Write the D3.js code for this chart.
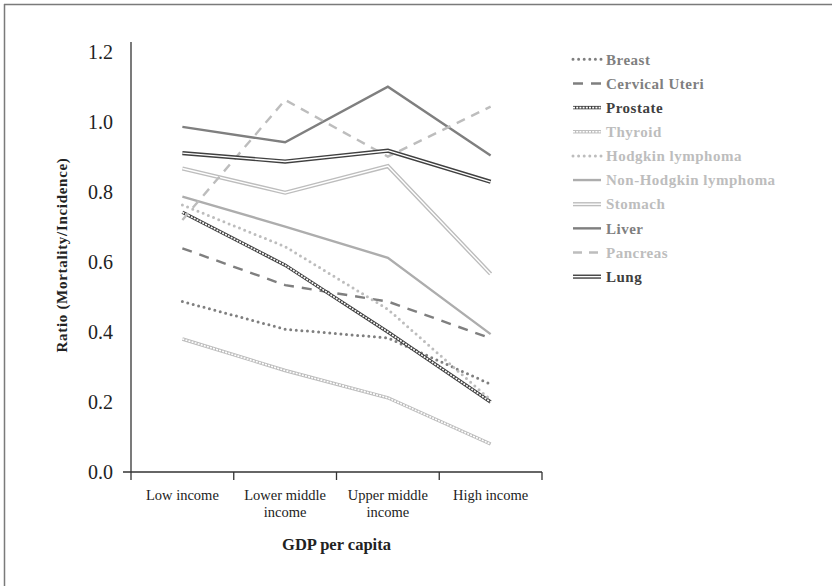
<!DOCTYPE html>
<html>
<head>
<meta charset="utf-8">
<script src="https://cdn.jsdelivr.net/npm/d3@7/dist/d3.min.js"></script>
<style>
  html, body { margin: 0; padding: 0; background: #fff; }
  svg { display: block; font-family: "Liberation Serif", "DejaVu Serif", serif; }
</style>
</head>
<body>
<svg id="chart" width="832" height="586"></svg>
<script>
// Income groups along the x axis (second line of a label after "|")
const categories = ["Low income", "Lower middle|income", "Upper middle|income", "High income"];
const yTicks = [0, 0.2, 0.4, 0.6, 0.8, 1.0, 1.2];

// Mortality-to-incidence ratio per cancer site, one value per income group
const breast      = [0.487, 0.408, 0.383, 0.251];
const cervical    = [0.639, 0.534, 0.487, 0.382];
const prostate    = [0.742, 0.591, 0.400, 0.200];
const thyroid     = [0.380, 0.290, 0.212, 0.080];
const hodgkin     = [0.763, 0.644, 0.465, 0.206];
const nonHodgkin  = [0.787, 0.701, 0.612, 0.394];
const stomach     = [0.867, 0.798, 0.874, 0.566];
const liver       = [0.986, 0.942, 1.101, 0.904];
const pancreas    = [0.720, 1.063, 0.901, 1.044];
const lung        = [0.911, 0.887, 0.918, 0.829];

const seriesNames = ["Breast", "Cervical Uteri", "Prostate", "Thyroid", "Hodgkin lymphoma",
  "Non-Hodgkin lymphoma", "Stomach", "Liver", "Pancreas", "Lung"];
const seriesValues = [breast, cervical, prostate, thyroid, hodgkin, nonHodgkin, stomach, liver, pancreas, lung];

// Line styling per series
const styles = {
  "Breast":               { kind: "dot",    color: "#7f7f7f", text: "#7f7f7f" },
  "Cervical Uteri":       { kind: "dash",   color: "#7f7f7f", text: "#7f7f7f", dash: "10,8", width: 2.4 },
  "Prostate":             { kind: "chain",  color: "#404040", text: "#404040" },
  "Thyroid":              { kind: "chain",  color: "#bdbdbd", text: "#bdbdbd" },
  "Hodgkin lymphoma":     { kind: "dot",    color: "#bdbdbd", text: "#bdbdbd" },
  "Non-Hodgkin lymphoma": { kind: "solid",  color: "#adadad", text: "#bdbdbd", width: 2.4 },
  "Stomach":              { kind: "double", color: "#bdbdbd", text: "#bdbdbd" },
  "Liver":                { kind: "solid",  color: "#7f7f7f", text: "#7f7f7f", width: 2.4 },
  "Pancreas":             { kind: "dash",   color: "#bdbdbd", text: "#bdbdbd", dash: "9,7", width: 2.4 },
  "Lung":                 { kind: "double", color: "#404040", text: "#404040" }
};

const series = seriesNames.map((name, i) => ({ name, values: seriesValues[i] }));

const svg = d3.select("#chart");

// Frame edges
svg.append("line").attr("x1", 4).attr("y1", 4.5).attr("x2", 832).attr("y2", 4.5)
  .attr("stroke", "#7a7a7a").attr("stroke-width", 1.5);
svg.append("line").attr("x1", 4.5).attr("y1", 4).attr("x2", 4.5).attr("y2", 586)
  .attr("stroke", "#7a7a7a").attr("stroke-width", 1.5);

const x = d3.scaleBand().domain(categories).range([131, 542]).paddingInner(0).paddingOuter(0);
const y = d3.scaleLinear().domain([0, 1.2]).range([472, 52]);

// Y axis: labels only, domain line reaching slightly above the top tick
const yAxis = svg.append("g").attr("transform", "translate(131,0)")
  .call(d3.axisLeft(y).tickValues(yTicks).tickSize(0).tickPadding(18).tickFormat(d3.format(".1f")));
yAxis.select(".domain").remove();
yAxis.selectAll("text").attr("font-size", 20).attr("fill", "#222")
  .attr("font-family", "Liberation Serif, serif");
svg.append("line").attr("x1", 131).attr("x2", 131).attr("y1", 42).attr("y2", y(0))
  .attr("stroke", "#333").attr("stroke-width", 1.3);

// X axis with boundary ticks between groups
const xAxis = svg.append("g").attr("transform", `translate(0,${y(0)})`)
  .call(d3.axisBottom(x).tickSize(0).tickPadding(14).tickFormat(""));
xAxis.select(".domain").remove();
svg.append("line").attr("x1", 123).attr("x2", 542).attr("y1", y(0)).attr("y2", y(0))
  .attr("stroke", "#333").attr("stroke-width", 1.3);
const bounds = categories.map(c => x(c)).concat([x(categories[categories.length - 1]) + x.bandwidth()]);
svg.selectAll(".xbound").data(bounds).enter().append("line")
  .attr("x1", d => d).attr("x2", d => d).attr("y1", y(0)).attr("y2", y(0) + 8)
  .attr("stroke", "#333").attr("stroke-width", 1.3);

xAxis.selectAll(".tick").each(function(d) {
  const t = d3.select(this).append("text")
    .attr("text-anchor", "middle").attr("fill", "#222")
    .attr("font-size", 14.5).attr("font-family", "Liberation Serif, serif");
  d.split("|").forEach((part, i) => {
    t.append("tspan").attr("x", 0).attr("y", 28 + i * 17).text(part);
  });
});

// Axis titles
svg.append("text").attr("x", 336.5).attr("y", 550).attr("text-anchor", "middle")
  .attr("font-weight", "bold").attr("font-size", 16.5).attr("fill", "#222")
  .text("GDP per capita");
svg.append("text").attr("transform", "translate(67,255) rotate(-90)").attr("text-anchor", "middle")
  .attr("font-weight", "bold").attr("font-size", 15).attr("letter-spacing", 0.7).attr("fill", "#222")
  .text("Ratio (Mortality/Incidence)");

const line = d3.line().x((d, i) => x(categories[i]) + x.bandwidth() / 2).y(d => y(d));

// Draws one styled stroke for a path generator output
function drawStyled(g, d, st) {
  if (st.kind === "solid") {
    g.append("path").attr("d", d).attr("fill", "none").attr("stroke", st.color).attr("stroke-width", st.width);
  } else if (st.kind === "dash") {
    g.append("path").attr("d", d).attr("fill", "none").attr("stroke", st.color)
      .attr("stroke-width", st.width).attr("stroke-dasharray", st.dash);
  } else if (st.kind === "dot") {
    g.append("path").attr("d", d).attr("fill", "none").attr("stroke", st.color)
      .attr("stroke-width", 3).attr("stroke-linecap", "round").attr("stroke-dasharray", "0,5.6");
  } else if (st.kind === "double") {
    g.append("path").attr("d", d).attr("fill", "none").attr("stroke", st.color).attr("stroke-width", 4.2);
    g.append("path").attr("d", d).attr("fill", "none").attr("stroke", "#fff").attr("stroke-width", 1.4);
  } else if (st.kind === "chain") {
    g.append("path").attr("d", d).attr("fill", "none").attr("stroke", st.color).attr("stroke-width", 3.4);
    g.append("path").attr("d", d).attr("fill", "none").attr("stroke", "#fff").attr("stroke-width", 1.6)
      .attr("stroke-dasharray", "2,1.2");
  }
}

const plot = svg.append("g");
series.forEach(s => {
  const g = plot.append("g").attr("class", "series");
  drawStyled(g, line(s.values), styles[s.name]);
});

// Legend
const legend = svg.append("g").attr("transform", "translate(573,59.3)");
series.forEach((s, i) => {
  const g = legend.append("g").attr("transform", `translate(0,${i * 24.15})`);
  drawStyled(g, `M0,0L28,0`, styles[s.name]);
  g.append("text").attr("x", 33).attr("y", 0).attr("dy", "0.35em")
    .attr("font-size", 15).attr("font-weight", "bold").attr("letter-spacing", 0.5)
    .attr("fill", styles[s.name].text).text(s.name);
});
</script>
</body>
</html>
